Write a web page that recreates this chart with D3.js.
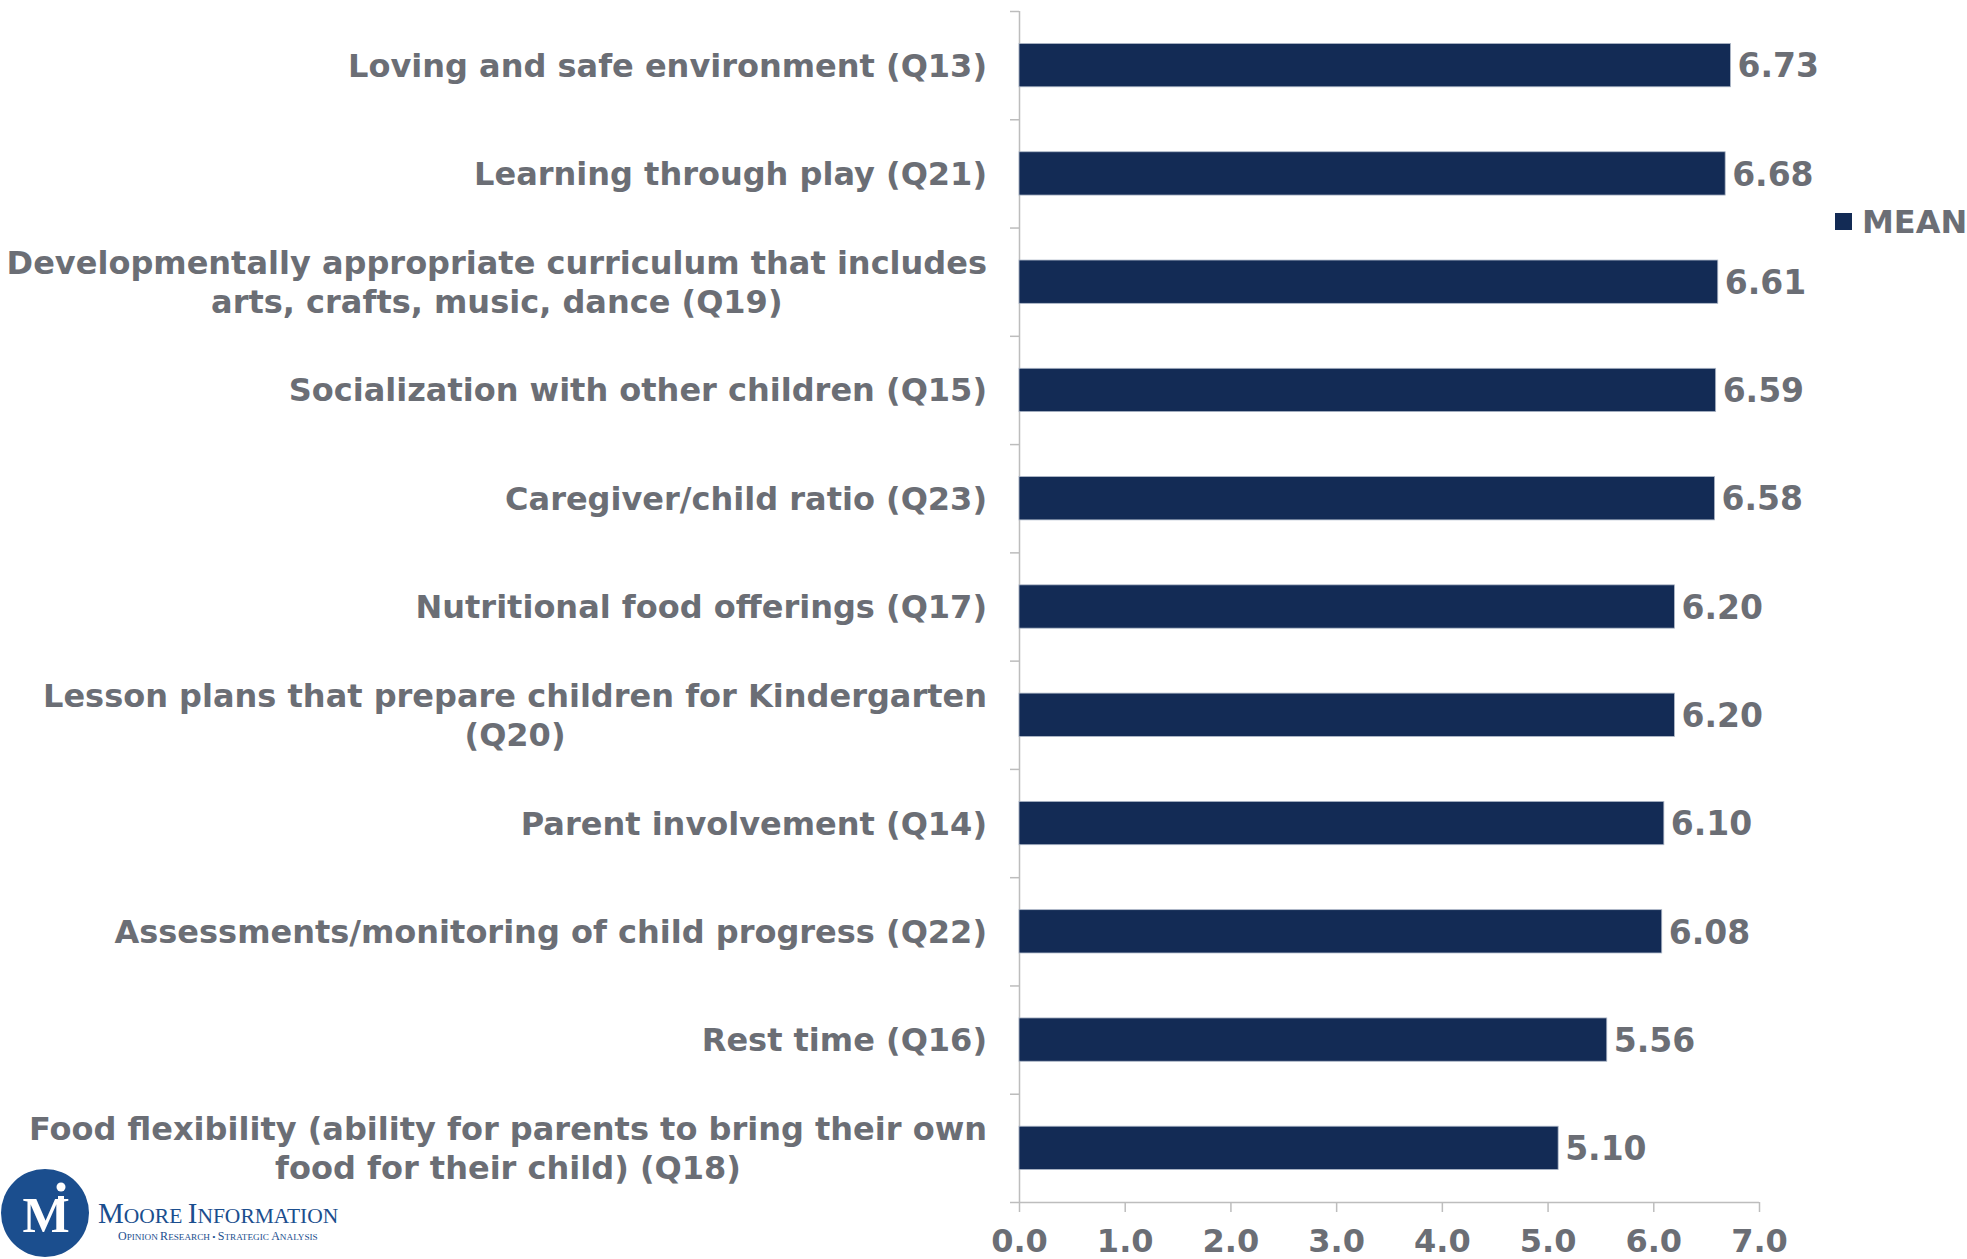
<!DOCTYPE html>
<html>
<head>
<meta charset="utf-8">
<script src="https://cdn.jsdelivr.net/npm/d3@7"></script>
<style>
  html, body { margin: 0; padding: 0; background: #fff; }
  svg { display: block; }
</style>
</head>
<body>
<script>
// ---- data ----
const categories = [
  ["Loving and safe environment (Q13)"],
  ["Learning through play (Q21)"],
  ["Developmentally appropriate curriculum that includes", "arts, crafts, music, dance (Q19)"],
  ["Socialization with other children (Q15)"],
  ["Caregiver/child ratio (Q23)"],
  ["Nutritional food offerings (Q17)"],
  ["Lesson plans that prepare children for Kindergarten", "(Q20)"],
  ["Parent involvement (Q14)"],
  ["Assessments/monitoring of child progress (Q22)"],
  ["Rest time (Q16)"],
  ["Food flexibility (ability for parents to bring their own", "food for their child) (Q18)"]
];
const meanValues = [6.73, 6.68, 6.61, 6.59, 6.58, 6.20, 6.20, 6.10, 6.08, 5.56, 5.10];
const xTicks = [0, 1, 2, 3, 4, 5, 6, 7];
const seriesName = "MEAN";

// ---- layout ----
const W = 1967, H = 1259;
const plotLeft = 1019, plotRight = 1759, plotTop = 11, plotBottom = 1202;
const textColor = "#6b6e75";
const barColor = "#132b55";
const axisColor = "#bdbdbd";
const fontFam = "'DejaVu Sans', Verdana, sans-serif";
const fs = 32;

const svg = d3.select("body").append("svg").attr("width", W).attr("height", H);

const keys = categories.map((c, i) => "c" + i);
const x = d3.scaleLinear().domain([0, 7]).range([plotLeft, plotRight]);
const y = d3.scaleBand().domain(keys).range([plotTop, plotBottom]).padding(0);
const barH = y.bandwidth() * 0.40;

// y axis (ticks at band boundaries)
const yb = d3.scaleLinear().domain([0, categories.length]).range([plotTop, plotBottom]);
const yAxisG = svg.append("g").attr("transform", `translate(${plotLeft},0)`)
  .call(d3.axisLeft(yb).tickValues(d3.range(categories.length + 1)).tickSize(9).tickFormat(""));
yAxisG.selectAll("path, line").attr("stroke", axisColor).attr("stroke-width", 1.5);
yAxisG.select("path").attr("d", `M0.5,${plotTop}V${plotBottom}`);

// x axis
const xAxisG = svg.append("g").attr("transform", `translate(0,${plotBottom})`)
  .call(d3.axisBottom(x).tickValues(xTicks).tickSize(10).tickPadding(17).tickFormat(d3.format(".1f")));
xAxisG.selectAll("path, line").attr("stroke", axisColor).attr("stroke-width", 1.5);
xAxisG.select("path").attr("d", `M${plotLeft},0.5H${plotRight}`);
xAxisG.selectAll("text")
  .attr("fill", textColor).attr("font-family", fontFam).attr("font-weight", "bold")
  .attr("font-size", fs);

// bars
svg.append("g").selectAll("rect").data(meanValues).join("rect")
  .attr("x", x(0))
  .attr("y", (d, i) => y(keys[i]) + (y.bandwidth() - barH) / 2)
  .attr("width", d => x(d) - x(0))
  .attr("height", barH)
  .attr("fill", barColor)
  .attr("stroke", "#aeb8c8").attr("stroke-width", 0.8);

// value labels
svg.append("g").selectAll("text").data(meanValues).join("text")
  .attr("x", d => x(d) + 7)
  .attr("y", (d, i) => y(keys[i]) + y.bandwidth() / 2)
  .attr("dy", "0.37em")
  .attr("fill", textColor).attr("font-family", fontFam).attr("font-weight", "bold")
  .attr("font-size", fs + 1)
  .text(d => d3.format(".2f")(d));

// category labels (block right-aligned, lines centered within block)
const labelRight = 987;
const lineGap = 39;
const catG = svg.append("g");
categories.forEach((lines, i) => {
  const cy = y(keys[i]) + y.bandwidth() / 2;
  const g = catG.append("g");
  const texts = lines.map((ln, j) => g.append("text")
    .attr("y", cy + (j - (lines.length - 1) / 2) * lineGap)
    .attr("dy", "0.36em")
    .attr("text-anchor", "middle")
    .attr("fill", textColor).attr("font-family", fontFam).attr("font-weight", "bold")
    .attr("font-size", fs)
    .text(ln));
  const maxW = d3.max(texts, t => t.node().getComputedTextLength());
  texts.forEach(t => t.attr("x", labelRight - maxW / 2));
});

// legend
const lg = svg.append("g").attr("transform", "translate(1835,213)");
lg.append("rect").attr("width", 17).attr("height", 17).attr("fill", barColor);
lg.append("text").attr("x", 27).attr("y", 8.5).attr("dy", "0.37em")
  .attr("fill", textColor).attr("font-family", fontFam).attr("font-weight", "bold")
  .attr("font-size", fs).text(seriesName);

// logo
const logoBlue = "#1b4e8e";
const logo = svg.append("g");
logo.append("circle").attr("cx", 45).attr("cy", 1213).attr("r", 44).attr("fill", logoBlue);
logo.append("text").attr("x", 46).attr("y", 1232).attr("text-anchor", "middle")
  .attr("font-family", "'Liberation Serif', 'DejaVu Serif', serif").attr("font-weight", "bold")
  .attr("font-size", 50).attr("fill", "#fff").text("M");
logo.append("rect").attr("x", 58).attr("y", 1196).attr("width", 6).attr("height", 36).attr("fill", "#fff");
logo.append("circle").attr("cx", 61).attr("cy", 1187).attr("r", 4.5).attr("fill", "#fff");
const serif = "'Liberation Serif', 'DejaVu Serif', serif";
const t1 = logo.append("text").attr("x", 98).attr("y", 1223)
  .attr("font-family", serif).attr("fill", logoBlue).attr("font-size", 29);
t1.append("tspan").text("M");
t1.append("tspan").attr("font-size", 21.5).text("OORE ");
t1.append("tspan").text("I");
t1.append("tspan").attr("font-size", 21.5).text("NFORMATION");
const t2 = logo.append("text").attr("x", 118).attr("y", 1240)
  .attr("font-family", serif).attr("fill", logoBlue).attr("font-size", 12);
t2.append("tspan").text("O");
t2.append("tspan").attr("font-size", 9.2).text("PINION ");
t2.append("tspan").text("R");
t2.append("tspan").attr("font-size", 9.2).text("ESEARCH • ");
t2.append("tspan").text("S");
t2.append("tspan").attr("font-size", 9.2).text("TRATEGIC ");
t2.append("tspan").text("A");
t2.append("tspan").attr("font-size", 9.2).text("NALYSIS");
</script>
</body>
</html>
